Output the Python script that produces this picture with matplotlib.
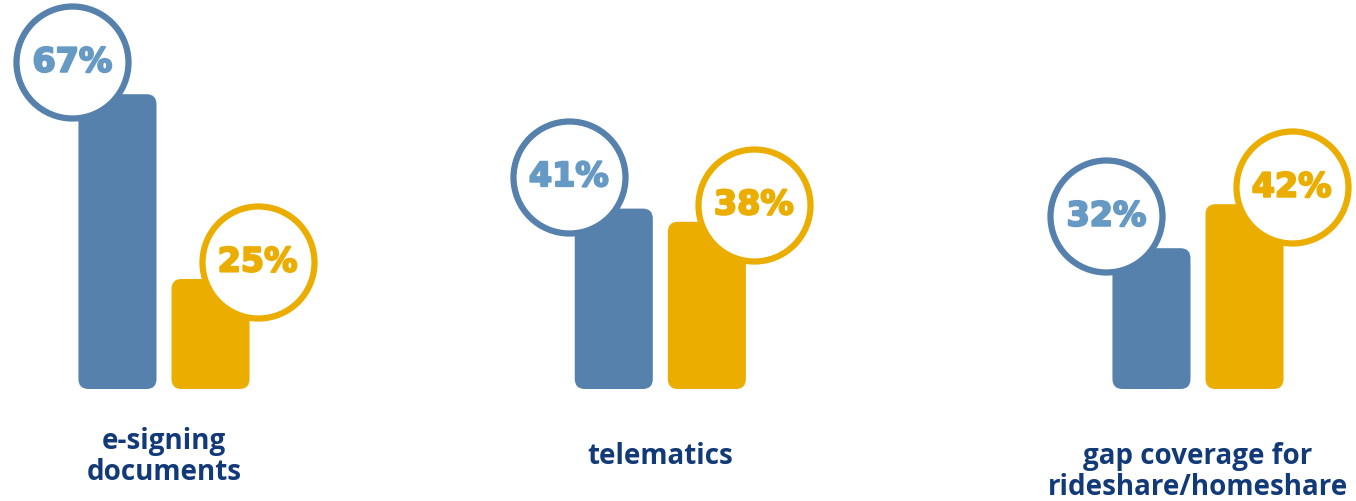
import matplotlib.pyplot as plt
import matplotlib.patheffects as pe
from matplotlib.patches import FancyBboxPatch

# Data read from the infographic
categories = ['e-signing\ndocuments', 'telematics', 'gap coverage for\nrideshare/homeshare']
series_a = [67, 41, 32]   # blue
series_b = [25, 38, 42]   # yellow

blue = '#5581ac'
blue_text = '#6699c3'
yellow = '#ebae00'
navy = '#133a78'

# layout
group_x = [0, 0.96, 2]
bar_w = 0.151
gap = 0.029
px_x = 517.0   # pixels per x unit
px_y = 4.4     # pixels per y unit

fig = plt.figure(figsize=(13.56, 5.02), dpi=100)
ax = fig.add_axes([0, 0, 1, 1])
ax.set_xlim(-164 / px_x, (1356 - 164) / px_x)
ax.set_ylim(-112 / px_y, 390 / px_y)
ax.axis('off')

xa = [g - gap / 2 - bar_w / 2 for g in group_x]
xb = [g + gap / 2 + bar_w / 2 for g in group_x]
bars_a = ax.bar(xa, series_a, width=bar_w, color=blue)
bars_b = ax.bar(xb, series_b, width=bar_w, color=yellow)

# swap plain rectangles for rounded ones
for bars, col in [(bars_a, blue), (bars_b, yellow)]:
    for r in bars:
        r.set_visible(False)
        p = FancyBboxPatch((r.get_x(), r.get_y()), r.get_width(), r.get_height(),
                           boxstyle='round,pad=0,rounding_size=%f' % (10 / px_x),
                           mutation_aspect=px_x / px_y, fc=col, ec='none', zorder=2)
        ax.add_patch(p)

# value bubbles
s = (112 * 0.72) ** 2
vfont = dict(ha='center', va='center', fontsize=24, family='DejaVu Sans',
             fontweight='bold', zorder=4)
for r, v in zip(bars_a, series_a):
    cx = r.get_x() - 6 / px_x
    cy = v + 32 / px_y
    ax.scatter(cx, cy, s=s, facecolor='white', edgecolor=blue, linewidth=4.5, zorder=3)
    ax.text(cx, cy, f'{v}%', color=blue_text,
            path_effects=[pe.withStroke(linewidth=1.5, foreground=blue_text)], **vfont)
for r, v in zip(bars_b, series_b):
    cx = r.get_x() + r.get_width() + 8 / px_x
    cy = v + 17 / px_y
    ax.scatter(cx, cy, s=s, facecolor='white', edgecolor=yellow, linewidth=4.5, zorder=3)
    ax.text(cx, cy, f'{v}%', color=yellow,
            path_effects=[pe.withStroke(linewidth=1.5, foreground=yellow)], **vfont)

# category labels
label_y = [457, 457, 472]
for g, lab, ly in zip(group_x, categories, label_y):
    ax.text(g, (390 - ly) / px_y, lab, ha='center', va='center', fontsize=20,
            family='Open Sans', fontweight='bold', color=navy, linespacing=1.1)

plt.savefig('out.png', dpi=100)
